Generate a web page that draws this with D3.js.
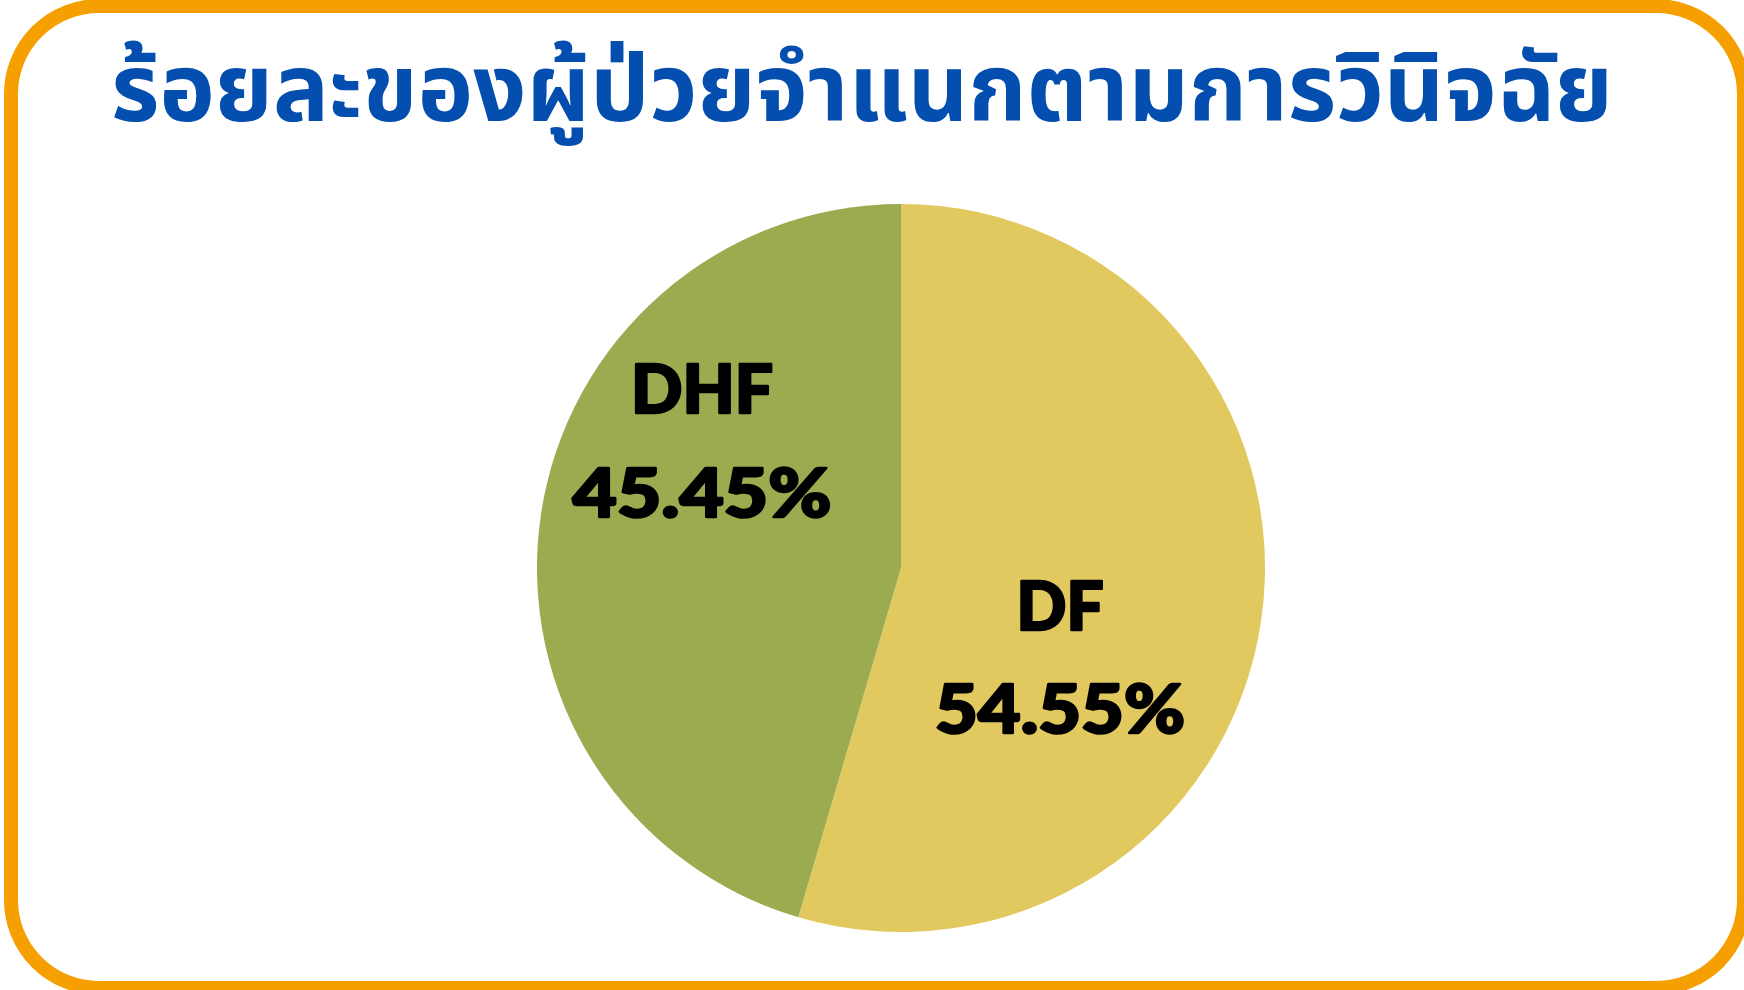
<!DOCTYPE html>
<html>
<head>
<meta charset="utf-8">
<script src="https://cdn.jsdelivr.net/npm/d3@7"></script>
<style>
html,body{margin:0;padding:0;background:#fff;overflow:hidden;}
</style>
</head>
<body>
<svg id="chart" width="1744" height="990"></svg>
<script>
const titleText = "ร้อยละของผู้ป่วยจำแนกตามการวินิจฉัย";
const categories = ["DF", "DHF"];
const values = [54.55, 45.45];
const colors = ["#E2C95F", "#9BAB50"];

const W = 1744, H = 990;
const svg = d3.select("#chart");

// frame
svg.append("rect")
  .attr("x", 11).attr("y", 6)
  .attr("width", 1741 - 11 + 3).attr("height", 988 - 6)
  .attr("rx", 88).attr("ry", 88)
  .attr("fill", "#fff")
  .attr("stroke", "#F5A000")
  .attr("stroke-width", 14);

// title
const title = svg.append("text")
  .attr("x", 862).attr("y", 121)
  .attr("text-anchor", "middle")
  .attr("fill", "#034EAE")
  .attr("font-family", "'Noto Sans Thai','Noto Sans','DejaVu Sans',sans-serif")
  .attr("font-weight", 700)
  .attr("font-size", 94)
  .attr("textLength", 1502)
  .attr("lengthAdjust", "spacingAndGlyphs")
  .text(titleText);

// pie
const cx = 901, cy = 568, r = 364;
const data = categories.map((c, i) => ({cat: c, value: values[i], color: colors[i]}));
const pie = d3.pie().value(d => d.value).sort(null);
const arc = d3.arc().innerRadius(0).outerRadius(r);
const g = svg.append("g").attr("transform", `translate(${cx},${cy})`);
const arcs = pie(data);
g.selectAll("path").data(arcs).enter().append("path")
  .attr("d", arc)
  .attr("fill", d => d.data.color);

// labels: [x, name baseline, value baseline, name width, value width]
const labelPos = {"DF": [159, 62, 165, 87, 250], "DHF": [-199, -155, -51, 142, 259]};
const lbl = g.selectAll("g.lbl").data(arcs).enter().append("g").attr("class", "lbl");
function styleLbl(t) {
  t.attr("text-anchor", "middle")
   .attr("font-family", "Lato, 'Noto Sans', sans-serif")
   .attr("font-weight", 900)
   .attr("font-size", 66)
   .attr("fill", "#000")
   .attr("stroke", "#000")
   .attr("stroke-width", 2.5)
   .attr("stroke-linejoin", "round")
   .attr("lengthAdjust", "spacingAndGlyphs");
}
lbl.append("text")
  .call(styleLbl)
  .attr("x", d => labelPos[d.data.cat][0])
  .attr("y", d => labelPos[d.data.cat][1])
  .attr("textLength", d => labelPos[d.data.cat][3])
  .text(d => d.data.cat);
lbl.append("text")
  .call(styleLbl)
  .attr("x", d => labelPos[d.data.cat][0])
  .attr("y", d => labelPos[d.data.cat][2])
  .attr("textLength", d => labelPos[d.data.cat][4])
  .text(d => d3.format(".2f")(d.data.value) + "%");
</script>
</body>
</html>
